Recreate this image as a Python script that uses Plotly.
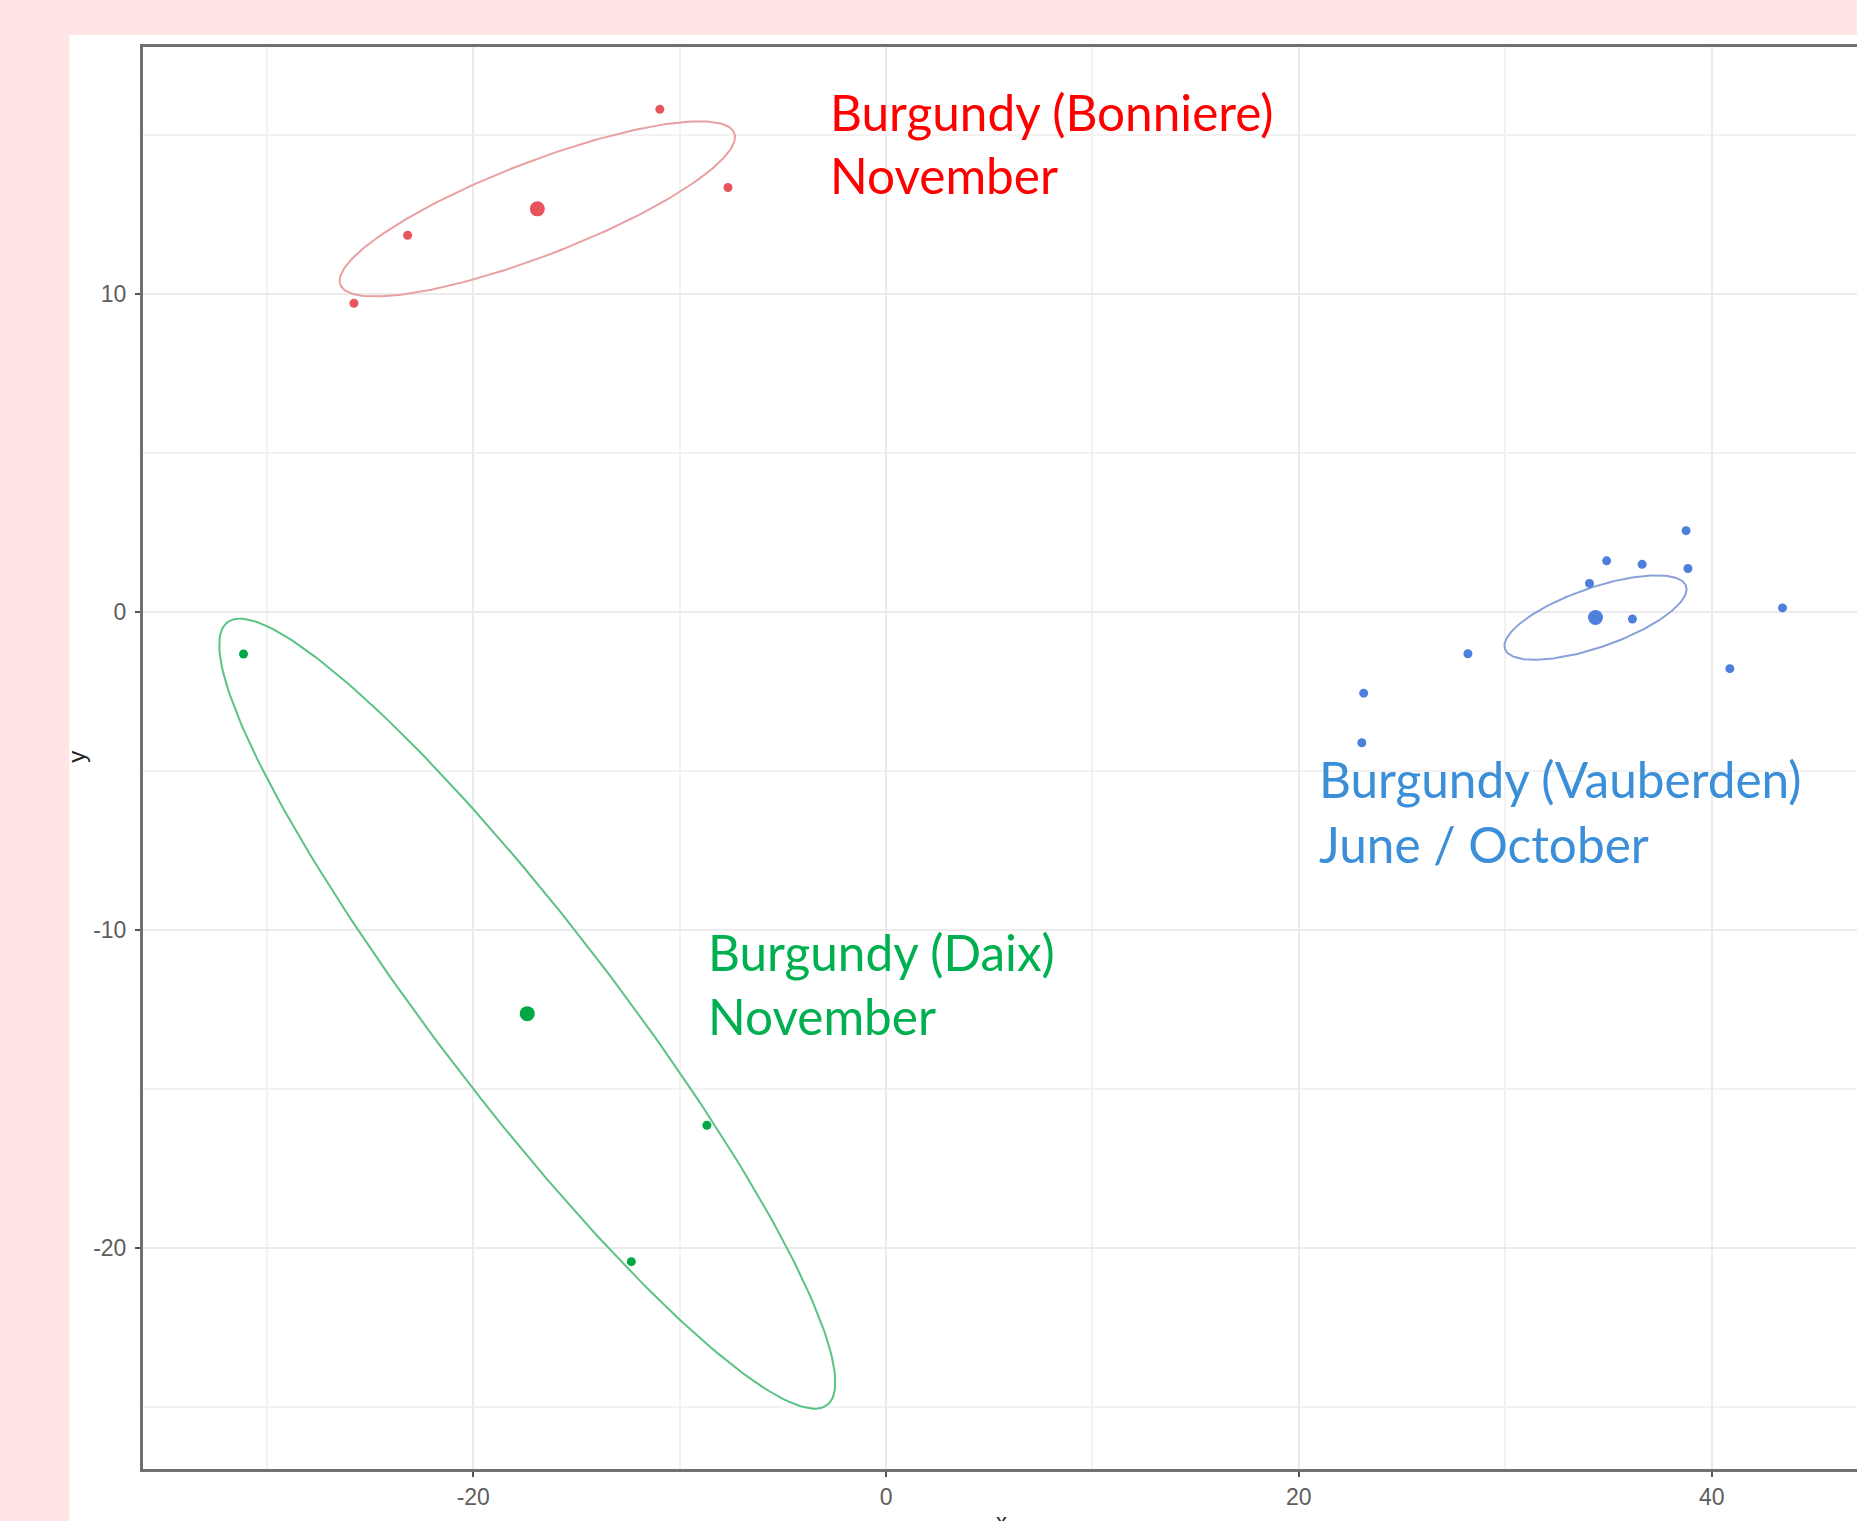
import numpy as np
import plotly.graph_objects as go

# Sample coordinates per site (x, y from the 2-D embedding)
bonniere_x = [-10.96, -23.18, -25.78, -7.66]
bonniere_y = [15.82, 11.86, 9.72, 13.36]

daix_x = [-31.13, -8.68, -12.34]
daix_y = [-1.31, -16.13, -20.42]

vauberden_x = [38.76, 34.91, 36.63, 38.85, 34.08, 36.16, 43.43, 28.19, 40.88, 23.14, 23.05]
vauberden_y = [2.57, 1.62, 1.51, 1.38, 0.91, -0.21, 0.14, -1.30, -1.77, -2.54, -4.10]

x_ticks = [-20, 0, 20, 40]
x_tick_text = ["-20", "0", "20", "40"]
y_ticks = [-20, -10, 0, 10]
y_tick_text = ["-20", "-10", "0", "10"]

groups = [
    dict(x=bonniere_x, y=bonniere_y, point="#E8545C", ring="#E8A0A2"),
    dict(x=daix_x, y=daix_y, point="#00A844", ring="#5CC286"),
    dict(x=vauberden_x, y=vauberden_y, point="#4F7FDD", ring="#8AA0D8"),
]

labels = [
    ("Burgundy (Bonniere)", "November", "#FF0000", -2.81, 15.75, 13.74),
    ("Burgundy (Daix)", "November", "#00B050", -8.73, -10.68, -12.69),
    ("Burgundy (Vauberden)", "June / October", "#3B8ED8", 20.86, -5.24, -7.29),
]

CONF_LEVEL = 0.90


def mean_ellipse(x, y, level=CONF_LEVEL, n_pts=240):
    """Confidence ellipse for the group mean (normal approximation)."""
    pts = np.column_stack([x, y])
    n = len(pts)
    centre = pts.mean(axis=0)
    cov = np.cov(pts, rowvar=False)
    radius = np.sqrt(-2.0 * np.log(1.0 - level) / n)
    vals, vecs = np.linalg.eigh(cov)
    t = np.linspace(0, 2 * np.pi, n_pts)
    circle = np.vstack([np.cos(t), np.sin(t)])
    shape = vecs @ np.diag(np.sqrt(vals)) @ circle * radius
    return centre[0] + shape[0], centre[1] + shape[1], centre


fig = go.Figure()

for g in groups:
    ex, ey, c = mean_ellipse(g["x"], g["y"])
    fig.add_trace(go.Scatter(x=ex, y=ey, mode="lines",
                             line=dict(color=g["ring"], width=2),
                             hoverinfo="skip"))
    fig.add_trace(go.Scatter(x=g["x"], y=g["y"], mode="markers",
                             marker=dict(color=g["point"], size=9)))
    fig.add_trace(go.Scatter(x=[c[0]], y=[c[1]], mode="markers",
                             marker=dict(color=g["point"], size=15)))

for line1, line2, colour, lx, ly1, ly2 in labels:
    for txt, ly in ((line1, ly1), (line2, ly2)):
        fig.add_annotation(x=lx, y=ly, xref="x", yref="y", text=txt,
                           showarrow=False, xanchor="left", yanchor="middle",
                           font=dict(family="Lato", size=49.5, color=colour))

# axis titles
fig.add_annotation(x=-0.039, y=0.501, xref="paper", yref="paper", text="y",
                   showarrow=False, textangle=-90, xanchor="center", yanchor="middle",
                   font=dict(family="Liberation Sans", size=24, color="#222222"))
fig.add_annotation(x=0.501, y=-0.0267, xref="paper", yref="paper", text="x",
                   showarrow=False, xanchor="center", yanchor="top",
                   font=dict(family="Liberation Sans", size=22, color="#222222"))

# white card behind the chart panel
fig.add_shape(type="rect", xref="paper", yref="paper", x0=-0.043, x1=1.05,
              y0=-0.06, y1=1.0085, fillcolor="white", line=dict(width=0),
              layer="below")

tick_font = dict(family="Liberation Sans", size=23, color="#5E5E5E")

fig.update_layout(
    width=1857, height=1521,
    margin=dict(l=143, r=0, t=47, b=52),
    paper_bgcolor="#FFE5E5",
    plot_bgcolor="white",
    showlegend=False,
    xaxis=dict(range=[-36.00, 47.04], tickvals=x_ticks, ticktext=x_tick_text,
               ticks="outside", ticklen=5, tickwidth=2, tickcolor="#555555",
               showline=True, linecolor="#707070", linewidth=3, mirror=True,
               showgrid=True, gridcolor="#EBEBEB", gridwidth=1.5,
               minor=dict(dtick=10, tick0=0, showgrid=True,
                          gridcolor="#F2F2F2", gridwidth=1.5),
               zeroline=False, tickfont=tick_font),
    yaxis=dict(range=[-26.94, 17.78], tickvals=y_ticks, ticktext=y_tick_text,
               ticks="outside", ticklen=5, tickwidth=2, tickcolor="#555555",
               showline=True, linecolor="#707070", linewidth=3, mirror=False,
               showgrid=True, gridcolor="#EBEBEB", gridwidth=1.5,
               minor=dict(dtick=5, tick0=0, showgrid=True,
                          gridcolor="#F2F2F2", gridwidth=1.5),
               zeroline=False, tickfont=tick_font, ticklabelstandoff=4),
)

fig.write_html("out.html")
